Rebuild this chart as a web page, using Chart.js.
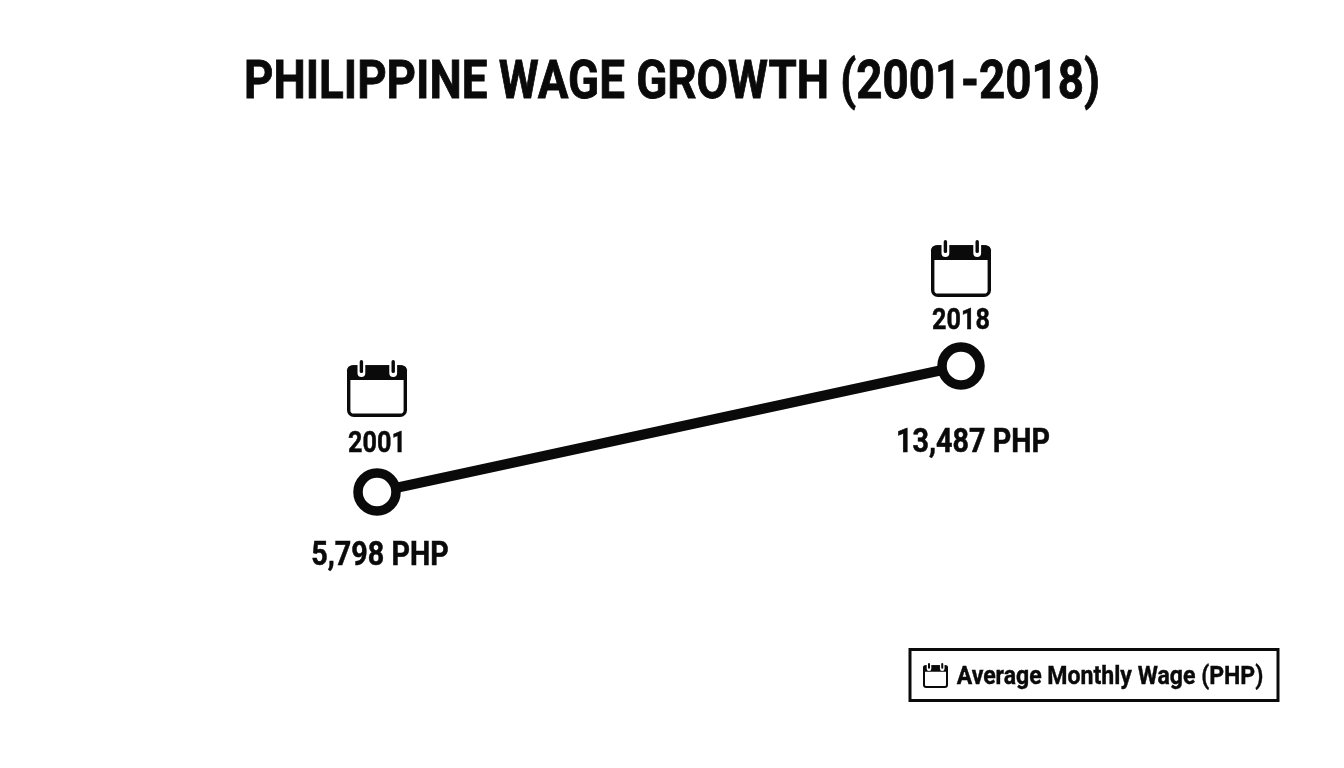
<!DOCTYPE html>
<html>
<head>
<meta charset="utf-8">
<title>Philippine Wage Growth</title>
<script src="https://cdn.jsdelivr.net/npm/chart.js@4/dist/chart.umd.min.js"></script>
<style>
  html, body { margin: 0; padding: 0; background: #fff; }
  #wrap { width: 1344px; height: 768px; }
</style>
</head>
<body>
<div id="wrap"><canvas id="wageChart" width="1344" height="768"></canvas></div>
<script>
// data
var years = [2001, 2018];
var wages = [5798, 13487];
var seriesName = 'Average Monthly Wage (PHP)';
var titleText = 'PHILIPPINE WAGE GROWTH (2001-2018)';

var ink = '#0a0a0a';
// the labels do not sit at the same distance from each point
var iconOffsets = [-132, -126];
var yearOffsets = [-48, -45];
var valueOffsets = [{ x: 3, y: 65 }, { x: 12, y: 78 }];

// Roboto squeezed a bit, there is no condensed face installed.
// the thin stroke brings the weight up to the reference
function squeezedText(ctx, text, cx, cy, size, squeeze) {
    ctx.save();
    ctx.translate(cx, cy);
    ctx.scale(squeeze, 1);
    ctx.font = 'bold ' + size + 'px Roboto';
    ctx.fillStyle = ink;
    ctx.strokeStyle = ink;
    ctx.lineWidth = size * 0.016;
    ctx.textAlign = 'center';
    ctx.textBaseline = 'middle';
    ctx.fillText(text, 0, 0);
    ctx.strokeText(text, 0, 0);
    ctx.restore();
}

function calendarIcon(ctx, x, y, w, h, lw) {
    var bodyTop = y + h * 0.09;
    var headBottom = y + h * 0.35;
    var ringEnd = y + h * 0.23;
    var radius = h * 0.09;
    ctx.save();
    ctx.fillStyle = ink;
    ctx.strokeStyle = ink;
    ctx.lineWidth = lw;
    ctx.beginPath();
    ctx.roundRect(x + lw / 2, bodyTop + lw / 2, w - lw, y + h - bodyTop - lw, radius);
    ctx.stroke();
    ctx.beginPath();
    ctx.roundRect(x, bodyTop, w, headBottom - bodyTop, [radius, radius, 0, 0]);
    ctx.fill();
    // rings
    ctx.lineCap = 'round';
    [0.24, 0.77].forEach(function (f) {
        var rx = x + w * f;
        ctx.strokeStyle = '#fff';
        ctx.lineWidth = lw * 2.3;
        ctx.beginPath();
        ctx.moveTo(rx, y);
        ctx.lineTo(rx, ringEnd);
        ctx.stroke();
        ctx.strokeStyle = ink;
        ctx.lineWidth = lw;
        ctx.beginPath();
        ctx.moveTo(rx, y + lw / 2);
        ctx.lineTo(rx, ringEnd - lw / 2);
        ctx.stroke();
    });
    ctx.restore();
}

var annotations = {
    id: 'annotations',
    afterDatasetsDraw: function (chart) {
        var ctx = chart.ctx;
        var points = chart.getDatasetMeta(0).data;

        squeezedText(ctx, titleText, 672, 85, 53, 0.862);

        points.forEach(function (pt, i) {
            calendarIcon(ctx, pt.x - 30, pt.y + iconOffsets[i], 60, 57, 3.4);
            squeezedText(ctx, String(years[i]), pt.x, pt.y + yearOffsets[i], 30, 0.84);
            squeezedText(ctx, wages[i].toLocaleString('en-US') + ' PHP',
                pt.x + valueOffsets[i].x, pt.y + valueOffsets[i].y, 33, 0.87);
        });

        // legend box
        ctx.save();
        ctx.strokeStyle = ink;
        ctx.lineWidth = 3;
        ctx.strokeRect(910, 649.5, 368, 51);
        ctx.restore();
        calendarIcon(ctx, 923, 663, 25, 25, 2);
        squeezedText(ctx, seriesName, 1110, 677, 26.5, 0.87);
    }
};

var wageCtx = document.getElementById('wageChart').getContext('2d');
var wageChart = new Chart(wageCtx, {
    type: 'line',
    data: {
        datasets: [{
            label: seriesName,
            data: years.map(function (y, i) { return { x: y, y: wages[i] }; }),
            borderColor: ink,
            borderWidth: 10,
            pointRadius: 19,
            pointBorderWidth: 9.5,
            pointBackgroundColor: '#fff',
            pointBorderColor: ink,
            tension: 0,
            clip: false
        }]
    },
    options: {
        responsive: false,
        animation: false,
        layout: { padding: { left: 377, right: 383, top: 366, bottom: 276 } },
        plugins: {
            legend: { display: false },
            title: { display: false },
            tooltip: { enabled: false }
        },
        scales: {
            x: { type: 'linear', display: false, min: years[0], max: years[1] },
            y: { type: 'linear', display: false, min: wages[0], max: wages[1] }
        }
    },
    plugins: [annotations]
});
</script>
</body>
</html>
